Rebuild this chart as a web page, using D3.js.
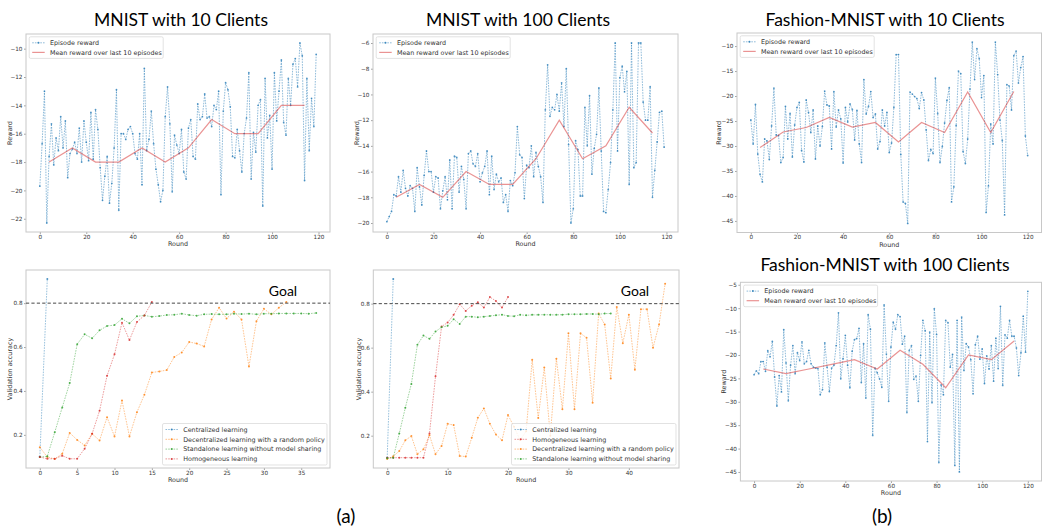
<!DOCTYPE html>
<html><head><meta charset="utf-8">
<script src="https://cdn.jsdelivr.net/npm/d3@7"></script>
<style>body{margin:0;background:#fff;} svg{display:block;}</style>
</head><body>
<script>
// ---------------- DATA ----------------
const meanRounds = [4,14,24,34,44,54,64,74,84,94,104,114];

const mnist10Reward = [-19.7,-16.7,-13.0,-22.3,-17.6,-15.3,-18.2,-16.3,-17.2,-14.8,
-17.0,-15.1,-19.1,-17.4,-17.1,-16.6,-17.4,-15.6,-18.0,-15.1,
-16.6,-17.9,-14.5,-17.8,-14.3,-15.7,-18.4,-20.7,-19.0,-17.6,
-20.9,-19.5,-17.0,-12.9,-21.4,-16.0,-16.0,-16.4,-15.7,-15.5,
-16.0,-17.4,-17.8,-16.0,-19.6,-11.4,-17.2,-16.4,-14.4,-16.7,
-18.5,-19.6,-20.8,-20.0,-14.8,-12.7,-15.3,-20.1,-16.1,-16.8,
-17.4,-15.7,-18.7,-19.2,-15.6,-15.0,-17.6,-17.8,-13.9,-15.0,
-14.8,-13.2,-14.9,-14.8,-15.5,-14.0,-14.3,-13.0,-20.3,-14.4,
-12.4,-12.9,-14.1,-17.6,-17.7,-15.7,-17.2,-18.7,-16.0,-14.9,
-11.7,-19.2,-15.9,-17.3,-14.0,-13.6,-21.1,-12.1,-16.3,-14.7,
-18.5,-11.7,-15.1,-13.0,-10.8,-15.2,-16.1,-12.1,-14.0,-11.1,
-10.7,-12.7,-9.6,-10.5,-19.3,-12.1,-17.2,-13.5,-15.5,-10.4];
const mnist10Mean = [-18,-17,-18,-18,-17,-18,-17,-15,-16,-16,-14,-14];

const mnist100Reward = [-19.9,-19.5,-19.1,-17.8,-17.9,-16.4,-17.6,-15.9,-17.3,-17.9,
-17.1,-17.3,-19.1,-15.7,-17.2,-18.6,-16.3,-14.4,-16.0,-16.0,
-17.6,-16.4,-16.5,-18.9,-17.5,-16.4,-18.2,-15.1,-18.9,-14.8,
-14.9,-17.6,-15.6,-16.6,-18.9,-14.6,-14.4,-15.4,-15.6,-14.6,
-16.8,-16.1,-15.6,-14.4,-17.8,-14.8,-17.4,-16.2,-16.8,-16.5,
-18.4,-17.8,-19.1,-16.7,-17.1,-16.1,-12.5,-14.7,-14.9,-18.1,
-15.5,-15.7,-14.0,-16.4,-14.5,-15.6,-16.4,-18.4,-11.2,-7.7,
-11.7,-11.0,-11.2,-10.0,-11.3,-9.1,-12.5,-8.0,-13.9,-20.0,
-18.9,-13.6,-14.3,-17.9,-17.9,-11.0,-14.0,-10.1,-16.2,-14.2,
-13.1,-9.5,-14.4,-19.1,-19.2,-17.4,-15.3,-11.2,-6.0,-14.4,
-8.7,-7.8,-9.8,-8.2,-17.0,-6.0,-15.7,-15.3,-6.0,-6.0,
-10.6,-12.0,-12.0,-9.4,-18.0,-15.9,-13.7,-11.4,-11.3,-14.1];
const mnist100Mean = [-18,-17,-18,-16,-17,-17,-15,-12,-15,-14,-11,-13];

const fashion10Reward = [-24.8,-29.6,-21.7,-31.6,-35.7,-37.2,-28.6,-29.0,-32.7,-26.0,
-18.4,-27.8,-27.9,-33.3,-32.3,-22.1,-28.6,-23.5,-32.2,-25.8,
-22.3,-21.3,-30.9,-33.2,-20.8,-23.3,-27.3,-22.8,-32.6,-26.0,
-30.0,-26.1,-19.0,-21.8,-22.0,-30.6,-19.1,-26.2,-22.8,-24.6,
-33.4,-22.3,-25.2,-21.6,-22.7,-28.8,-22.9,-29.6,-33.3,-16.7,
-23.6,-22.1,-19.1,-24.3,-23.6,-30.6,-29.1,-22.8,-26.0,-23.3,
-31.3,-29.4,-22.3,-11.7,-11.7,-31.7,-41.2,-41.5,-45.5,-19.2,
-19.6,-20.1,-20.5,-22.5,-19.3,-20.8,-26.8,-32.9,-30.7,-31.5,
-16.4,-23.5,-33.3,-30.1,-25.4,-20.9,-18.3,-41.2,-38.2,-25.9,
-15.0,-15.5,-31.1,-33.5,-28.6,-18.6,-9.2,-16.7,-10.5,-12.5,
-20.3,-15.9,-43.3,-38.0,-25.6,-29.6,-9.2,-15.7,-24.8,-28.9,
-43.8,-17.7,-18.0,-22.8,-11.9,-11.0,-17.4,-14.3,-12.1,-28.0,
-31.9];
const fashion10Mean = [-30.3,-27.2,-26.3,-24.3,-26.2,-25.3,-29.2,-25.3,-27.3,-19.2,-27.3,-19.1];

const fashion100Reward = [-24.2,-23.4,-24.0,-21.4,-21.4,-23.5,-19.1,-20.4,-17.1,-24.7,
-30.9,-24.4,-27.9,-14.6,-21.7,-29.8,-22.2,-18.0,-24.0,-19.5,
-21.2,-17.2,-21.9,-21.4,-19.0,-21.9,-22.6,-22.8,-22.9,-28.5,
-27.4,-17.4,-22.6,-27.8,-22.8,-22.2,-18.0,-11.0,-25.1,-20.8,
-15.8,-22.2,-27.0,-19.2,-16.7,-16.5,-14.3,-25.9,-17.6,-29.2,
-11.4,-14.5,-37.2,-22.8,-23.8,-25.1,-26.9,-9.3,-19.8,-29.9,
-18.3,-13.0,-14.5,-11.4,-11.8,-17.7,-16.0,-32.3,-19.0,-18.0,
-25.2,-24.5,-29.9,-20.1,-12.6,-14.8,-38.5,-15.1,-30.2,-10.1,
-15.6,-43.0,-26.4,-28.5,-12.6,-13.1,-22.6,-19.9,-43.6,-12.6,
-45.0,-11.9,-23.3,-17.6,-18.3,-21.0,-28.3,-17.8,-16.0,-20.9,
-18.7,-26.1,-20.2,-23.0,-18.0,-25.6,-16.4,-22.9,-9.6,-26.5,
-15.7,-16.4,-12.6,-16.0,-16.0,-18.5,-24.4,-19.5,-11.7,-19.4,
-6.4];
const fashion100Mean = [-23,-24,-23,-22,-21,-23,-19,-22,-27,-20,-21,-17];

// accuracy (MNIST 10 clients)
const acc10Central = [0.10,0.91];
const acc10Decentral = [0.144,0.099,0.09,0.114,0.209,0.177,0.152,0.205,0.174,0.28,0.193,0.356,0.193,0.303,0.383,0.484,0.489,0.495,0.555,0.575,0.623,0.616,0.603,0.726,0.779,0.730,0.761,0.726,0.511,0.718,0.774,0.749,0.779,0.805];
const acc10Standalone = [0.099,0.102,0.212,0.325,0.436,0.613,0.658,0.640,0.676,0.696,0.700,0.729,0.708,0.740,0.744,0.738,0.741,0.746,0.747,0.752,0.746,0.743,0.749,0.750,0.749,0.749,0.752,0.750,0.752,0.749,0.752,0.752,0.753,0.753,0.753,0.753,0.752,0.755];
const acc10Homog = [0.099,0.091,0.091,0.105,0.091,0.091,0.137,0.205,0.310,0.469,0.567,0.711,0.632,0.714,0.744,0.805];

// accuracy (MNIST 100 clients)
const acc100Central = [0.10,0.912];
const acc100Homog = [0.10,0.10,0.10,0.10,0.10,0.10,0.10,0.21,0.47,0.696,0.714,0.749,0.797,0.767,0.791,0.806,0.782,0.830,0.812,0.782,0.830];
const acc100Decentral = [0.094,0.106,0.13,0.179,0.198,0.116,0.138,0.202,0.116,0.153,0.254,0.248,0.108,0.105,0.191,0.281,0.324,0.254,0.205,0.179,0.294,0.24,0.18,0.22,0.545,0.28,0.51,0.2,0.55,0.32,0.665,0.32,0.665,0.645,0.35,0.755,0.705,0.46,0.785,0.62,0.75,0.5,0.775,0.775,0.6,0.705,0.89];
const acc100Standalone = [0.097,0.10,0.21,0.327,0.435,0.613,0.655,0.64,0.673,0.693,0.699,0.729,0.708,0.741,0.741,0.738,0.741,0.744,0.747,0.75,0.744,0.743,0.749,0.747,0.749,0.749,0.75,0.749,0.749,0.75,0.752,0.752,0.752,0.753,0.753,0.752,0.755,0.755];

const goalValue = 0.8;
const rewardXTicks = [0,20,40,60,80,100,120];
const titles = ["MNIST with 10 Clients","MNIST with 100 Clients","Fashion-MNIST with 10 Clients","Fashion-MNIST with 100 Clients"];
const lblEpisode = "Episode reward", lblMean = "Mean reward over last 10 episodes";
const lblCentral = "Centralized learning", lblDecentral = "Decentralized learning with a random policy",
      lblStandalone = "Standalone learning without model sharing", lblHomog = "Homogeneous learning";

// ---------------- DRAW ----------------
const W = 1042, H = 527;
const FS = 6.4;      // legend / axis-label size
const TFS = 5.7;     // tick-label size
const MPL = '"DejaVu Sans", sans-serif';
const COL = {blue:"#1f77b4", orange:"#ff7f0e", green:"#2ca02c", red:"#d62728"};
const svg = d3.select("body").append("svg").attr("width", W).attr("height", H);
const defs = svg.append("defs");
let clipId = 0;

function padExtent(arrs, pad = 0.05) {
  const all = arrs.flat();
  const [a, b] = d3.extent(all);
  const m = (b - a) * pad;
  return [a - m, b + m];
}

function makePanel(f, xd, yd, xTicks, yTicks, yFmt, ylab, ylabX) {
  const g = svg.append("g");
  const x = d3.scaleLinear().domain(xd).range([f.x0, f.x1]);
  const y = d3.scaleLinear().domain(yd).range([f.y1, f.y0]);
  const id = "clip" + (clipId++);
  defs.append("clipPath").attr("id", id).append("rect")
    .attr("x", f.x0).attr("y", f.y0).attr("width", f.x1 - f.x0).attr("height", f.y1 - f.y0);
  const styleAxis = s => {
    s.attr("font-family", MPL).attr("font-size", TFS);
    s.select(".domain").remove();
    s.selectAll(".tick line").attr("stroke", "#666").attr("stroke-width", 0.6);
    s.selectAll(".tick text").attr("fill", "#333");
  };
  g.append("g").attr("transform", `translate(0,${f.y1})`)
    .call(d3.axisBottom(x).tickValues(xTicks).tickSize(2).tickPadding(0.8).tickFormat(d3.format("d")))
    .call(styleAxis);
  g.append("g").attr("transform", `translate(${f.x0},0)`)
    .call(d3.axisLeft(y).tickValues(yTicks).tickSize(2).tickPadding(1.5).tickFormat(yFmt))
    .call(styleAxis);
  g.append("rect").attr("x", f.x0).attr("y", f.y0).attr("width", f.x1 - f.x0).attr("height", f.y1 - f.y0)
    .attr("fill", "none").attr("stroke", "#c8c8c8").attr("stroke-width", 1);
  g.append("text").attr("x", (f.x0 + f.x1) / 2).attr("y", f.y1 + 14)
    .attr("text-anchor", "middle").attr("font-family", MPL).attr("font-size", FS).attr("fill", "#333")
    .text("Round");
  g.append("text").attr("transform", `translate(${ylabX},${(f.y0 + f.y1) / 2}) rotate(-90)`)
    .attr("text-anchor", "middle").attr("dy", "0.35em").attr("font-family", MPL).attr("font-size", FS).attr("fill", "#333")
    .text(ylab);
  const plot = g.append("g").attr("clip-path", `url(#${id})`);
  return {g, plot, x, y, f};
}

function seriesLine(P, xs, ys, color, opts = {}) {
  const pts = ys.map((v, i) => [xs[i], v]);
  const line = d3.line().x(d => P.x(d[0])).y(d => P.y(d[1]));
  P.plot.append("path").datum(pts).attr("d", line).attr("fill", "none")
    .attr("stroke", color).attr("stroke-width", opts.width || 0.9)
    .attr("stroke-opacity", opts.opacity || 0.5)
    .attr("stroke-dasharray", opts.dash || null);
  if (opts.marker) {
    P.plot.append("g").selectAll("circle").data(pts).join("circle")
      .attr("cx", d => P.x(d[0])).attr("cy", d => P.y(d[1])).attr("r", opts.r || 0.95)
      .attr("fill", color).attr("fill-opacity", opts.mOpacity || 0.75);
  }
}

function legend(P, bx, by, bw, bh, items, step) {
  const g = P.g.append("g");
  g.append("rect").attr("x", bx).attr("y", by).attr("width", bw).attr("height", bh).attr("rx", 1.5)
    .attr("fill", "#fff").attr("fill-opacity", 0.8).attr("stroke", "#d6d6d6").attr("stroke-width", 0.7);
  items.forEach((it, i) => {
    const cy = by + 6 + i * step;
    g.append("line").attr("x1", bx + 3).attr("x2", bx + 15.5).attr("y1", cy).attr("y2", cy)
      .attr("stroke", it.color).attr("stroke-width", it.solid ? 1.2 : 0.9)
      .attr("stroke-opacity", it.solid ? 0.5 : 0.55).attr("stroke-dasharray", it.solid ? null : "1.6,1.1");
    if (!it.solid) g.append("circle").attr("cx", bx + 9.25).attr("cy", cy).attr("r", 1).attr("fill", it.color).attr("fill-opacity", 0.8);
    g.append("text").attr("x", bx + 20.7).attr("y", cy).attr("dy", "0.35em")
      .attr("font-family", MPL).attr("font-size", FS).attr("fill", "#333").text(it.label);
  });
}

function rewardPanel(f, reward, mean, yTicks, ylabX) {
  const rounds = reward.map((_, i) => i);
  const xd = padExtent([rounds]);
  const yd = padExtent([reward, mean]);
  const P = makePanel(f, xd, yd, rewardXTicks, yTicks, d3.format("d"), "Reward", ylabX);
  seriesLine(P, rounds, reward, COL.blue, {dash: "1.6,1.1", opacity: 0.55, width: 0.9, marker: true, r: 0.9});
  seriesLine(P, meanRounds, mean, COL.red, {opacity: 0.5, width: 1.2});
  legend(P, f.x0 + 3.2, f.y0 + 2.8, 134, 21.6, [
    {label: lblEpisode, color: COL.blue},
    {label: lblMean, color: COL.red, solid: true}
  ], 9.6);
  return P;
}

function accPanel(f, series, ylabX, goalX) {
  const maxLen = d3.max(series, s => s.data.length);
  const xd = padExtent([[0, maxLen - 1]]);
  const yd = padExtent(series.map(s => s.data));
  const xt = maxLen > 40 ? [0,10,20,30,40] : [0,5,10,15,20,25,30,35];
  const P = makePanel(f, xd, yd, xt, [0.2,0.4,0.6,0.8], d3.format(".1f"), "Validation accuracy", ylabX);
  series.forEach(s => {
    seriesLine(P, s.data.map((_, i) => i), s.data, s.color, {dash: "1.6,1.1", opacity: 0.5, width: 0.9, marker: true, r: 1.0, mOpacity: 0.8});
  });
  P.g.append("line").attr("x1", f.x0).attr("x2", f.x1).attr("y1", P.y(goalValue)).attr("y2", P.y(goalValue))
    .attr("stroke", "#333").attr("stroke-width", 0.9).attr("stroke-dasharray", "3.2,2.2");
  legend(P, f.x1 - 3 - 164.5, f.y1 - 3 - 41.5, 164.5, 41.5,
    series.map(s => ({label: s.label, color: s.color})), 9.8);
  P.g.append("text").attr("x", goalX).attr("y", 295.7).attr("text-anchor", "middle")
    .attr("font-family", "Lato, sans-serif").attr("font-size", 14).attr("fill", "#000").text("Goal");
  return P;
}

// panels
rewardPanel({x0: 26, x1: 330, y0: 34, y1: 232}, mnist10Reward, mnist10Mean, [-22,-20,-18,-16,-14,-12,-10], 10);
rewardPanel({x0: 373, x1: 678, y0: 34, y1: 232}, mnist100Reward, mnist100Mean, [-20,-18,-16,-14,-12,-10,-8,-6], 356.7);
rewardPanel({x0: 737, x1: 1041.5, y0: 33, y1: 232.5}, fashion10Reward, fashion10Mean, [-45,-40,-35,-30,-25,-20,-15,-10], 718.5);
rewardPanel({x0: 740.4, x1: 1041.5, y0: 282.3, y1: 481}, fashion100Reward, fashion100Mean, [-45,-40,-35,-30,-25,-20,-15,-10,-5], 723.3);

accPanel({x0: 26, x1: 330, y0: 270, y1: 468}, [
  {label: lblCentral, data: acc10Central, color: COL.blue},
  {label: lblDecentral, data: acc10Decentral, color: COL.orange},
  {label: lblStandalone, data: acc10Standalone, color: COL.green},
  {label: lblHomog, data: acc10Homog, color: COL.red}
], 10, 283);
accPanel({x0: 373.3, x1: 679, y0: 270, y1: 468}, [
  {label: lblCentral, data: acc100Central, color: COL.blue},
  {label: lblHomog, data: acc100Homog, color: COL.red},
  {label: lblDecentral, data: acc100Decentral, color: COL.orange},
  {label: lblStandalone, data: acc100Standalone, color: COL.green}
], 358.3, 635);

// titles & captions
const TF = "Lato, sans-serif";
[[titles[0], 181, 26], [titles[1], 518, 26], [titles[2], 885, 26], [titles[3], 885, 271]].forEach(([t, x, y]) => {
  svg.append("text").attr("x", x).attr("y", y).attr("text-anchor", "middle")
    .attr("font-family", TF).attr("font-size", 17.5).attr("fill", "#000").text(t);
});
[["(a)", 346], ["(b)", 882]].forEach(([t, x]) => {
  svg.append("text").attr("x", x).attr("y", 523).attr("text-anchor", "middle")
    .attr("font-family", TF).attr("font-size", 19).attr("fill", "#000").text(t);
});
</script>
</body></html>
